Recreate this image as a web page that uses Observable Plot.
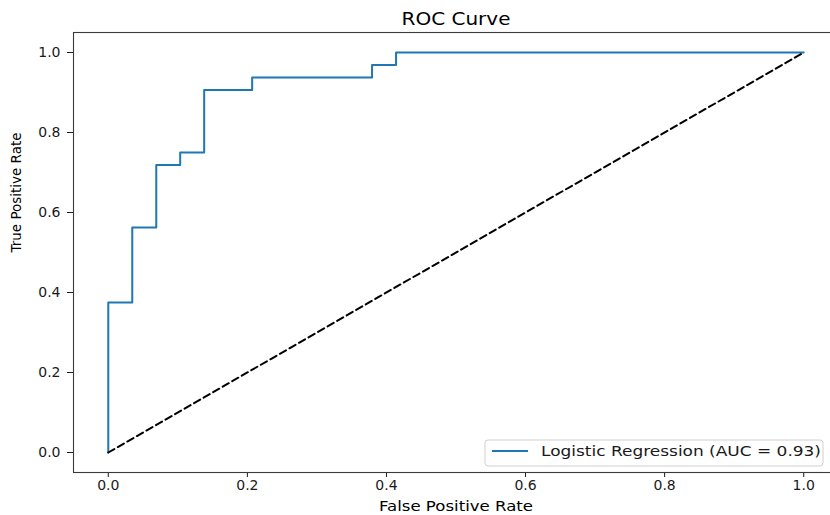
<!DOCTYPE html>
<html>
<head>
<meta charset="utf-8">
<script src="https://cdn.jsdelivr.net/npm/d3@7"></script>
<script src="https://cdn.jsdelivr.net/npm/@observablehq/plot@0.6"></script>
<style>
  html, body { margin: 0; padding: 0; background: #fff; overflow: hidden; }
  #chart { width: 830px; height: 515px; overflow: hidden; }
  #chart svg { max-width: none !important; width: 850px; height: 515px; }
  svg text { font-family: "DejaVu Sans", sans-serif; }
</style>
</head>
<body>
<div id="chart"></div>
<script>
// ROC curve points (step curve)
const fpr = [0, 0, 0.0345, 0.069, 0.1034, 0.1379, 0.2069, 0.3793, 0.4138, 1.0];
const tpr = [0, 0.375, 0.5625, 0.71875, 0.75, 0.90625, 0.9375, 0.96875, 1.0, 1.0];
// chance diagonal
const diagX = [0, 1];
const diagY = [0, 1];
// tick labels
const xTicks = [0, 0.2, 0.4, 0.6, 0.8, 1.0];
const yTicks = [0, 0.2, 0.4, 0.6, 0.8, 1.0];
// texts
const titleText = "ROC Curve";
const xLabel = "False Positive Rate";
const yLabel = "True Positive Rate";
const seriesLabel = "Logistic Regression (AUC = 0.93)";

const roc = fpr.map((x, i) => ({x, y: tpr[i]}));
const diag = diagX.map((x, i) => ({x, y: diagY[i]}));

const W = 850, H = 515;
const chart = Plot.plot({
  width: W,
  height: H,
  marginLeft: 73,
  marginRight: 12,
  marginTop: 32,
  marginBottom: 43,
  style: {fontFamily: "DejaVu Sans, sans-serif", fontSize: "14px", color: "#1a1a1a", background: "#fff", overflow: "visible", maxWidth: "none"},
  x: {domain: [-0.05, 1.05], ticks: xTicks, tickFormat: d3.format(".1f"), tickSize: 5, tickPadding: 3, label: null},
  y: {domain: [-0.05, 1.05], ticks: yTicks, tickFormat: d3.format(".1f"), tickSize: 6, tickPadding: 7, label: null},
  marks: [
    Plot.frame({stroke: "#3a3a3a", strokeWidth: 1.1}),
    Plot.line(roc, {x: "x", y: "y", curve: "step-after", stroke: "#1f77b4", strokeWidth: 2}),
    Plot.line(diag, {x: "x", y: "y", stroke: "#000", strokeWidth: 2, strokeDasharray: "7,4"}),
    Plot.text([titleText], {frameAnchor: "top", dy: -20, fontSize: 17, fill: "#000", className: "ttl"}),
    Plot.text([xLabel], {frameAnchor: "bottom", dy: 38, fontSize: 14, fill: "#000", className: "xlab"}),
    Plot.text([yLabel], {frameAnchor: "left", dx: -57, rotate: -90, fontSize: 14, fill: "#000", className: "ylab"})
  ]
});
document.getElementById("chart").appendChild(chart);

const svg = d3.select(chart);
function fitText(sel, len) {
  svg.selectAll(sel + " text").attr("textLength", len).attr("lengthAdjust", "spacingAndGlyphs");
}
fitText(".ttl", 109);
fitText(".xlab", 154);
fitText(".ylab", 120);

// legend
const lg = svg.append("g").attr("text-anchor", "start");
lg.append("rect").attr("x", 485).attr("y", 440).attr("width", 338).attr("height", 26)
  .attr("rx", 3).attr("fill", "#fff").attr("fill-opacity", 0.85).attr("stroke", "#d0d0d0");
lg.append("line").attr("x1", 492).attr("x2", 528).attr("y1", 451).attr("y2", 451)
  .attr("stroke", "#1f77b4").attr("stroke-width", 2);
lg.append("text").attr("x", 541).attr("y", 451).attr("dy", "0.35em").attr("text-anchor", "start")
  .attr("font-size", 14).attr("fill", "#1a1a1a").attr("textLength", 280).attr("lengthAdjust", "spacingAndGlyphs")
  .text(seriesLabel);
</script>
</body>
</html>
